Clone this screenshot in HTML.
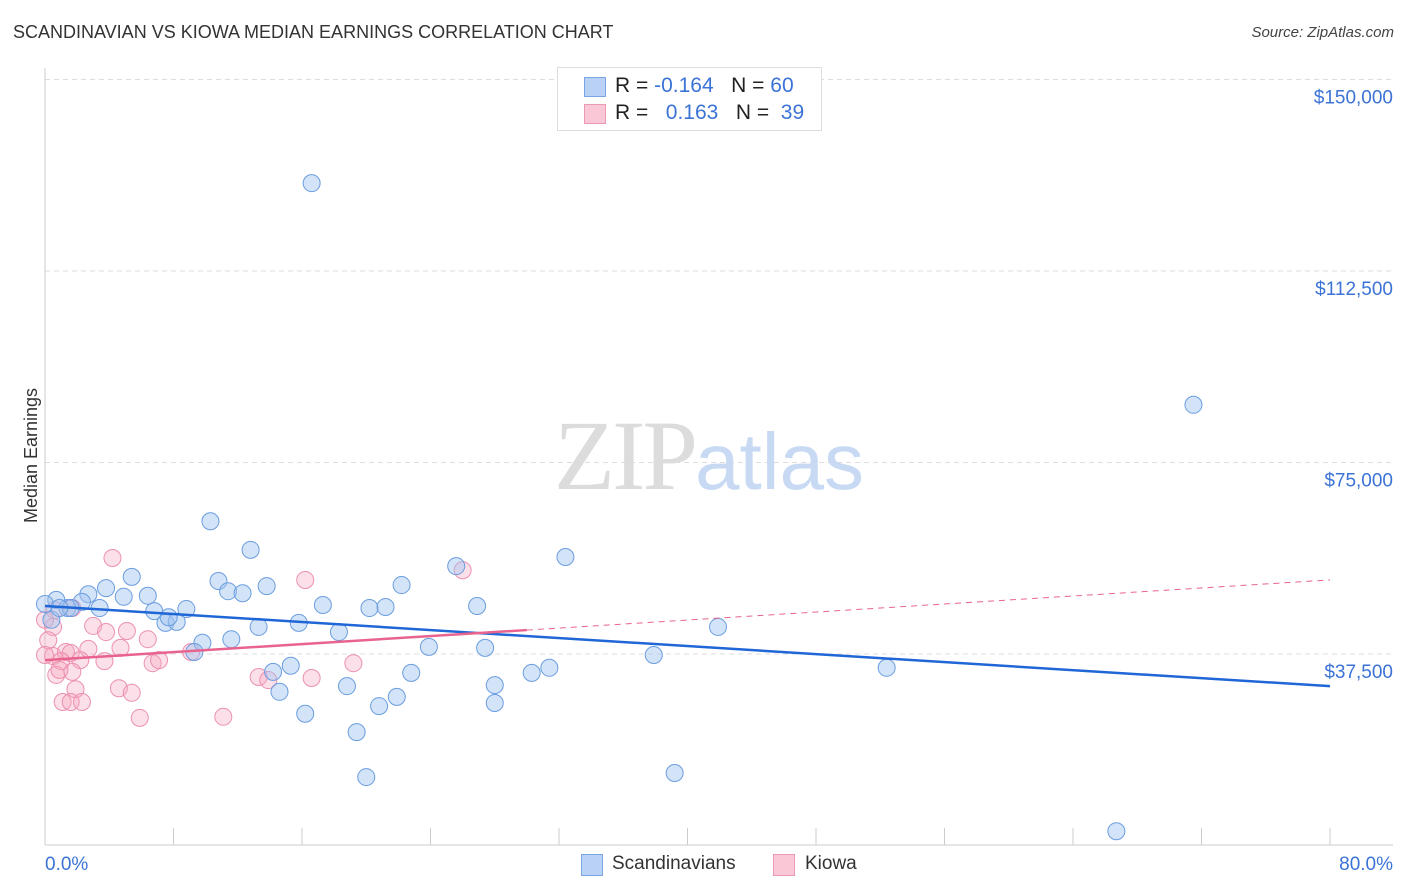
<!DOCTYPE html>
<html><head><meta charset="utf-8"><style>
body{margin:0;background:#fff;font-family:"Liberation Sans",sans-serif;}
#wrap{position:relative;width:1406px;height:892px;overflow:hidden;}
.t{position:absolute;white-space:nowrap;}
</style></head><body>
<div id="wrap">
<div class="t" style="left:13px;top:22px;font-size:18px;color:#333;">SCANDINAVIAN VS KIOWA MEDIAN EARNINGS CORRELATION CHART</div>
<div class="t" style="right:12px;top:24px;font-size:15px;color:#444;font-style:italic;">Source: ZipAtlas.com</div>
<div class="t" style="left:-36px;top:445px;font-size:18px;color:#333;transform:rotate(-90deg);">Median Earnings</div>
<svg id="svg" width="1406" height="892" style="position:absolute;left:0;top:0"></svg>
<div style="position:absolute;left:557px;top:67px;width:263px;height:62px;border:1px solid #ddd;background:#fff;">
 <div style="position:absolute;left:26px;top:9px;width:20px;height:18px;background:#b8d1f5;border:1px solid #7aa6e6;"></div>
 <div class="t" style="left:57px;top:6px;font-size:21px;color:#222;">R = <span style="color:#3b73d6">-0.164</span>&nbsp;&nbsp;&nbsp;N = <span style="color:#3b73d6">60</span></div>
 <div style="position:absolute;left:26px;top:36px;width:20px;height:18px;background:#f9c7d6;border:1px solid #ec9ab4;"></div>
 <div class="t" style="left:57px;top:33px;font-size:21px;color:#222;">R = &nbsp;&nbsp;<span style="color:#3b73d6">0.163</span>&nbsp;&nbsp;&nbsp;N = &nbsp;<span style="color:#3b73d6">39</span></div>
</div>
<div>
 <div style="position:absolute;left:581px;top:854px;width:20px;height:20px;background:#b8d1f5;border:1px solid #7aa6e6;"></div>
 <div class="t" style="left:612px;top:853px;font-size:19px;color:#333;">Scandinavians</div>
 <div style="position:absolute;left:773px;top:854px;width:20px;height:20px;background:#f9c7d6;border:1px solid #ec9ab4;"></div>
 <div class="t" style="left:805px;top:853px;font-size:19px;color:#333;">Kiowa</div>
</div>
<div class="t" style="left:554px;top:398px;font-size:100px;font-family:'Liberation Serif',serif;color:#dcdcdc;letter-spacing:-3px;">ZIP<span style="font-family:'Liberation Sans',sans-serif;color:#c8daf3;font-size:80px;letter-spacing:0">atlas</span></div>
</div>
<script>
const yTicks=[150000,112500,75000,37500];
const yTickLabels=["$150,000","$112,500","$75,000","$37,500"];
const xTickLabels=["0.0%","80.0%"];
const blueX=[16.6,71.5,10.3,12.8,32.4,25.6,5.4,10.8,13.8,22.2,3.8,2.7,6.4,11.4,12.3,0.7,2.3,4.9,26.9,17.3,20.2,21.2,0,1.4,3.4,8.8,6.8,7.5,8.2,7.7,15.8,13.3,18.3,41.9,0.4,9.8,11.6,23.9,27.4,9.3,37.9,31.4,52.4,15.3,14.2,22.8,30.3,18.8,28.0,14.6,21.9,20.8,28.0,16.2,19.4,39.2,20.0,66.7,1.6,0.9];
const blueY=[129700,86300,63500,57900,56500,54700,52600,51800,50800,51000,50400,49200,48900,49800,49400,48100,47700,48700,46900,47100,46500,46700,47300,46500,46500,46300,45900,43600,43800,44700,43600,42800,41800,42800,44200,39700,40400,38900,38700,37900,37300,34800,34800,35200,34000,33800,33800,31200,31400,30100,29100,27300,27900,25800,22200,14200,13400,2800,46500,46500];
const pinkX=[4.2,16.2,26.0,0.6,1.7,0.5,3.0,3.8,5.1,0.2,6.4,0.5,1.3,1.6,2.7,4.7,9.1,1.0,3.7,2.2,6.7,7.1,19.2,1.7,0.7,0.9,13.3,13.9,16.6,1.9,4.6,5.4,1.1,1.6,2.3,5.9,11.1,0.0,0.0];
const pinkY=[56300,52000,53900,46100,46500,42800,43000,41800,42000,40200,40400,37100,37900,37700,38500,38700,37900,36100,36100,36300,35700,36300,35700,34000,33400,34400,33000,32400,32800,30600,30800,29900,28100,28100,28100,25000,25200,44200,37300];
const blueTrend=[46900,31200];   // value at 0% and 80%
const pinkTrend=[36300,52000];   // value at 0% and 80%
const pinkSolidEnd=30;

const X=v=>45+v/80*1285;
const Y=v=>654-(v-37500)*191.5/37500;
const svg=document.getElementById('svg');
const NS='http://www.w3.org/2000/svg';
function mk(tag,attrs){const e=document.createElementNS(NS,tag);for(const k in attrs)e.setAttribute(k,attrs[k]);svg.appendChild(e);return e;}
yTicks.forEach((v,i)=>{
 const g=mk('line',{x1:45,x2:1393,y1:Y(v),y2:Y(v),stroke:'#ddd','stroke-dasharray':'5,4'});
 
 
 const t=mk('text',{x:1393,y:Y(v)+24,'text-anchor':'end','font-size':19,fill:'#3b73d6','font-family':'Liberation Sans, sans-serif'});
 t.textContent=yTickLabels[i];
 
 
});
const ax=mk('line',{x1:45,x2:1393,y1:845,y2:845,stroke:'#ccc'});


const ay=mk('line',{x1:45,x2:45,y1:68,y2:845,stroke:'#ccc'});


for(let i=0;i<=10;i++){
 const tk=mk('line',{x1:X(i*8),x2:X(i*8),y1:828,y2:845,stroke:'#ccc'});
 
 
}
[[0,45,'start'],[80,1393,'end']].forEach((a,i)=>{
 const t=mk('text',{x:a[1],y:870,'text-anchor':a[2],'font-size':19,fill:'#3b73d6','font-family':'Liberation Sans, sans-serif'});
 t.textContent=xTickLabels[i];
 
 
});
pinkX.forEach((x,i)=>{
 const c=mk('circle',{cx:X(x),cy:Y(pinkY[i]),r:8.5,fill:'rgba(245,165,192,0.35)',stroke:'#ec90b0','stroke-width':1});
 
 
});
blueX.forEach((x,i)=>{
 const c=mk('circle',{cx:X(x),cy:Y(blueY[i]),r:8.5,fill:'rgba(160,195,240,0.45)',stroke:'#6a9de0','stroke-width':1});
 
 
});
const bt=mk('line',{x1:X(0),y1:Y(blueTrend[0]),x2:X(80),y2:Y(blueTrend[1]),stroke:'#1f66d6','stroke-width':2.5});


const pv=x=>pinkTrend[0]+(pinkTrend[1]-pinkTrend[0])*x/80;
const pt=mk('line',{x1:X(0),y1:Y(pv(0)),x2:X(pinkSolidEnd),y2:Y(pv(pinkSolidEnd)),stroke:'#e8638e','stroke-width':2.5});


const pd=mk('line',{x1:X(pinkSolidEnd),y1:Y(pv(pinkSolidEnd)),x2:X(80),y2:Y(pv(80)),stroke:'#e8638e','stroke-width':1,'stroke-dasharray':'6,5'});


</script>
</body></html>
